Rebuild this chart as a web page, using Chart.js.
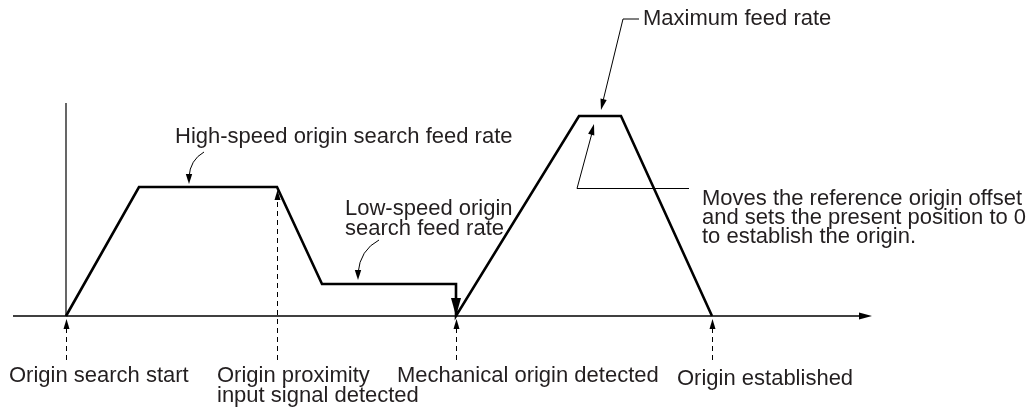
<!DOCTYPE html>
<html>
<head>
<meta charset="utf-8">
<script src="https://cdn.jsdelivr.net/npm/chart.js@4.4.1/dist/chart.umd.min.js"></script>
<style>
  html, body { margin: 0; padding: 0; background: #fff; }
  #wrap { width: 1031px; height: 410px; position: relative; }
</style>
</head>
<body>
<div id="wrap"><canvas id="originChart"></canvas></div>
<script>
// feed-rate profile of the origin search (time units / % of max feed rate)
const timeAxis = [0, 7.3, 21.1, 25.6, 39, 39, 51.3, 55.5, 64.6];
const feedRate = [0, 64.5, 64.5, 16, 16, 0, 100, 100, 0];

// instants marked under the time axis
const eventTimes = [0, 21.1, 39, 64.6];
const eventLabels = [
    ['Origin search start'],
    ['Origin proximity', 'input signal detected'],
    ['Mechanical origin detected'],
    ['Origin established']
];

const calloutLabels = {
    high: ['High-speed origin search feed rate'],
    low: ['Low-speed origin', 'search feed rate'],
    max: ['Maximum feed rate'],
    offset: ['Moves the reference origin offset', 'and sets the present position to 0', 'to establish the origin.']
};

const config = {
    font: '22px "Liberation Sans", Arial, sans-serif',
    textColor: '#231f20',
    lineColor: '#000'
};

function arrowHead(ctx, x1, y1, x2, y2, len, half) {
    const a = Math.atan2(y2 - y1, x2 - x1);
    ctx.beginPath();
    ctx.moveTo(x2, y2);
    ctx.lineTo(x2 - len * Math.cos(a) + half * Math.sin(a), y2 - len * Math.sin(a) - half * Math.cos(a));
    ctx.lineTo(x2 - len * Math.cos(a) - half * Math.sin(a), y2 - len * Math.sin(a) + half * Math.cos(a));
    ctx.closePath();
    ctx.fill();
}

function drawLines(ctx, lines, x, y, step) {
    lines.forEach((t, i) => ctx.fillText(t, x, y + i * step));
}

const diagramPlugin = {
    id: 'diagram',
    beforeDatasetsDraw(chart) {
        const {ctx, scales: {x, y}} = chart;
        const X = v => x.getPixelForValue(v);
        const Y = v => y.getPixelForValue(v);
        ctx.save();
        ctx.strokeStyle = config.lineColor;
        ctx.fillStyle = config.lineColor;
        // time axis with arrow
        ctx.lineWidth = 1.7;
        ctx.beginPath();
        ctx.moveTo(X(-5.3), Y(0));
        ctx.lineTo(X(80.2), Y(0));
        ctx.stroke();
        arrowHead(ctx, X(79), Y(0), X(80.6), Y(0), 13, 3.5);
        // speed axis
        ctx.lineWidth = 1.2;
        ctx.beginPath();
        ctx.moveTo(X(0), Y(0));
        ctx.lineTo(X(0), Y(106.5));
        ctx.stroke();
        ctx.restore();
    },
    afterDatasetsDraw(chart) {
        const {ctx, scales: {x, y}} = chart;
        const X = v => x.getPixelForValue(v);
        const Y = v => y.getPixelForValue(v);
        ctx.save();
        ctx.strokeStyle = config.lineColor;
        ctx.fillStyle = config.lineColor;

        // dashed event markers
        ctx.lineWidth = 1;
        eventTimes.forEach((t, i) => {
            const px = Math.round(X(t)) + 0.5;
            const top = i === 1 ? Y(feedRate[2]) + 3 : Y(0) + 3;
            const bottom = Y(-22);
            ctx.setLineDash([5, 4]);
            ctx.beginPath();
            ctx.moveTo(px, bottom);
            ctx.lineTo(px, top + 8);
            ctx.stroke();
            ctx.setLineDash([]);
            arrowHead(ctx, px, top + 20, px, top, 10, 3);
        });

        // thick arrow down to the mechanical origin
        arrowHead(ctx, X(39), Y(16), X(39), Y(0), 18, 5);

        // high-speed callout
        ctx.lineWidth = 1;
        ctx.beginPath();
        ctx.moveTo(204, 152);
        ctx.quadraticCurveTo(190, 160, 189, 177);
        ctx.stroke();
        arrowHead(ctx, 189, 172, 189, 184, 10, 3.2);

        // low-speed callout
        ctx.beginPath();
        ctx.moveTo(379, 240);
        ctx.quadraticCurveTo(360, 250, 358, 273);
        ctx.stroke();
        arrowHead(ctx, 358, 268, 358, 280, 10, 3.2);

        // maximum feed rate leader
        ctx.beginPath();
        ctx.moveTo(639, 19);
        ctx.lineTo(623, 19);
        ctx.lineTo(603, 101);
        ctx.stroke();
        arrowHead(ctx, 623, 19, 601, Y(100) - 6, 11, 3.2);

        // reference origin offset leader
        ctx.beginPath();
        ctx.moveTo(689, 188.5);
        ctx.lineTo(577, 188.5);
        ctx.lineTo(592, 133);
        ctx.stroke();
        arrowHead(ctx, 577, 188.5, 594, Y(100) + 8, 11, 3.2);

        // texts
        ctx.fillStyle = config.textColor;
        ctx.font = config.font;
        ctx.textBaseline = 'alphabetic';
        const labelPos = [[9, 382], [217, 382], [397, 382], [677, 385]];
        eventLabels.forEach((lines, i) => drawLines(ctx, lines, labelPos[i][0], labelPos[i][1], 20));
        drawLines(ctx, calloutLabels.high, 175, 143, 20);
        drawLines(ctx, calloutLabels.low, 345, 215, 20);
        drawLines(ctx, calloutLabels.max, 643, 25, 20);
        drawLines(ctx, calloutLabels.offset, 702, 205, 19);
        ctx.restore();
    }
};

const ctx = document.getElementById('originChart').getContext('2d');
new Chart(ctx, {
    type: 'scatter',
    data: {
        datasets: [{
            label: 'Feed rate',
            data: timeAxis.map((t, i) => ({x: t, y: feedRate[i]})),
            showLine: true,
            borderColor: '#000',
            borderWidth: 2.6,
            borderJoinStyle: 'miter',
            pointRadius: 0,
            tension: 0
        }]
    },
    options: {
        responsive: true,
        maintainAspectRatio: false,
        animation: false,
        layout: { padding: 0 },
        plugins: {
            legend: { display: false },
            tooltip: { enabled: false }
        },
        scales: {
            x: { type: 'linear', display: false, min: -6.6, max: 96.5 },
            y: { type: 'linear', display: false, min: -47, max: 158 }
        }
    },
    plugins: [diagramPlugin]
});
</script>
</body>
</html>
